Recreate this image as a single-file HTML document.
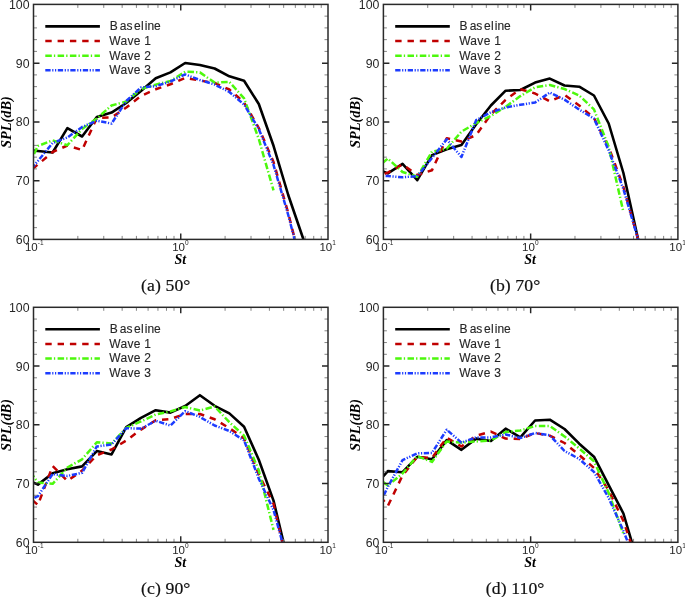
<!DOCTYPE html><html><head><meta charset="utf-8"><style>html,body{margin:0;padding:0;background:#fff;}svg{display:block;will-change:transform;}text{font-family:"Liberation Sans",sans-serif;}</style></head><body>
<svg width="685" height="597" viewBox="0 0 685 597">
<defs>
<clipPath id="clipa"><rect x="33.5" y="4.4" width="294.5" height="235.0"/></clipPath>
<clipPath id="clipb"><rect x="383.4" y="4.4" width="294.5" height="235.0"/></clipPath>
<clipPath id="clipc"><rect x="33.5" y="307.3" width="294.5" height="235.0"/></clipPath>
<clipPath id="clipd"><rect x="383.4" y="307.3" width="294.5" height="235.0"/></clipPath>
</defs>
<rect width="685" height="597" fill="#fff"/>
<g clip-path="url(#clipa)" fill="none" stroke-linejoin="round">
<polyline points="23.19,150.00 37.92,151.00 52.64,152.50 67.37,128.20 82.09,136.50 96.82,117.00 111.54,112.60 126.27,103.00 140.99,91.00 155.72,78.30 170.44,72.40 185.17,63.00 199.89,65.00 214.62,68.50 229.34,76.30 244.07,80.80 258.79,104.00 273.52,145.80 288.24,195.00 302.97,238.00 317.69,280.00" stroke="#000000" stroke-width="2.6"/>
<polyline points="23.19,177.00 37.92,164.50 52.64,152.00 67.37,145.50 82.09,150.00 96.82,118.00 111.54,117.50 126.27,107.50 140.99,96.00 155.72,89.30 170.44,84.30 185.17,78.00 199.89,80.50 214.62,83.00 229.34,89.50 244.07,102.50 258.79,128.00 273.52,162.00 288.24,213.00 302.97,272.00" stroke="#c00000" stroke-width="2.5" stroke-dasharray="6.4 5.9"/>
<polyline points="23.19,176.00 37.92,146.00 52.64,140.40 67.37,145.20 82.09,129.00 96.82,118.50 111.54,105.50 126.27,101.50 140.99,89.00 155.72,84.60 170.44,81.00 185.17,71.70 199.89,72.40 214.62,82.60 229.34,81.80 244.07,98.40 258.79,139.00 273.52,190.40" stroke="#4cf80c" stroke-width="2.5" stroke-dasharray="6.5 2.1 1.3 2.4"/>
<polyline points="23.19,178.00 37.92,161.00 52.64,143.00 67.37,137.50 82.09,127.00 96.82,120.70 111.54,123.60 126.27,101.00 140.99,87.50 155.72,86.20 170.44,81.50 185.17,74.40 199.89,80.00 214.62,84.50 229.34,92.00 244.07,104.50 258.79,129.00 273.52,165.00 288.24,215.00 302.97,272.00" stroke="#1c3cff" stroke-width="2.5" stroke-dasharray="5.3 1.6 1.2 1.6 1.2 1.6"/>
</g>
<path d="M33.5,227.65h3.5M328.0,227.65h-3.5M33.5,215.90h3.5M328.0,215.90h-3.5M33.5,204.15h3.5M328.0,204.15h-3.5M33.5,192.40h3.5M328.0,192.40h-3.5M33.5,168.90h3.5M328.0,168.90h-3.5M33.5,157.15h3.5M328.0,157.15h-3.5M33.5,145.40h3.5M328.0,145.40h-3.5M33.5,133.65h3.5M328.0,133.65h-3.5M33.5,110.15h3.5M328.0,110.15h-3.5M33.5,98.40h3.5M328.0,98.40h-3.5M33.5,86.65h3.5M328.0,86.65h-3.5M33.5,74.90h3.5M328.0,74.90h-3.5M33.5,51.40h3.5M328.0,51.40h-3.5M33.5,39.65h3.5M328.0,39.65h-3.5M33.5,27.90h3.5M328.0,27.90h-3.5M33.5,16.15h3.5M328.0,16.15h-3.5M77.83,239.4v-3.5M77.83,4.4v3.5M103.76,239.4v-3.5M103.76,4.4v3.5M122.15,239.4v-3.5M122.15,4.4v3.5M136.42,239.4v-3.5M136.42,4.4v3.5M148.08,239.4v-3.5M148.08,4.4v3.5M157.94,239.4v-3.5M157.94,4.4v3.5M166.48,239.4v-3.5M166.48,4.4v3.5M174.01,239.4v-3.5M174.01,4.4v3.5M225.08,239.4v-3.5M225.08,4.4v3.5M251.01,239.4v-3.5M251.01,4.4v3.5M269.40,239.4v-3.5M269.40,4.4v3.5M283.67,239.4v-3.5M283.67,4.4v3.5M295.33,239.4v-3.5M295.33,4.4v3.5M305.19,239.4v-3.5M305.19,4.4v3.5M313.73,239.4v-3.5M313.73,4.4v3.5M321.26,239.4v-3.5M321.26,4.4v3.5" stroke="#777" stroke-width="0.9" fill="none"/>
<path d="M33.5,180.65h6M328.0,180.65h-6M33.5,121.90h6M328.0,121.90h-6M33.5,63.15h6M328.0,63.15h-6M180.75,239.4v-6M180.75,4.4v6" stroke="#262626" stroke-width="1.45" fill="none"/>
<rect x="33.5" y="4.4" width="294.5" height="235.0" fill="none" stroke="#2a2a2a" stroke-width="1.5"/>
<text x="29.5" y="243.90" font-size="12.3" text-anchor="end" fill="#262626">60</text>
<text x="29.5" y="185.15" font-size="12.3" text-anchor="end" fill="#262626">70</text>
<text x="29.5" y="126.40" font-size="12.3" text-anchor="end" fill="#262626">80</text>
<text x="29.5" y="67.65" font-size="12.3" text-anchor="end" fill="#262626">90</text>
<text x="29.5" y="8.90" font-size="12.3" text-anchor="end" fill="#262626">100</text>
<text x="31.30" y="250.60" font-size="11.5" text-anchor="middle" fill="#262626">10</text>
<text x="37.80" y="244.70" font-size="6.5" fill="#262626">-1</text>
<text x="178.55" y="250.60" font-size="11.5" text-anchor="middle" fill="#262626">10</text>
<text x="185.05" y="244.70" font-size="6.5" fill="#262626">0</text>
<text x="325.80" y="250.60" font-size="11.5" text-anchor="middle" fill="#262626">10</text>
<text x="332.30" y="244.70" font-size="6.5" fill="#262626">1</text>
<text x="180.25" y="264.40" font-size="14" text-anchor="middle" font-family="Liberation Serif" font-weight="bold" font-style="italic" style="font-family:'Liberation Serif',serif">St</text>
<text transform="translate(10.50,122.10) rotate(-90)" font-size="14.4" text-anchor="middle" font-weight="bold" font-style="italic" style="font-family:'Liberation Serif',serif">SPL(dB)</text>
<line x1="45.3" y1="26.40" x2="99.9" y2="26.40" stroke="#000000" stroke-width="2.6"/>
<text x="109.30" y="30.20" font-size="12" dx="0.4 2.1 -0.1 1.7 0.2 1.1 0.1 -0.1" fill="#262626" stroke="#262626" stroke-width="0.12">Baseline</text>
<line x1="45.3" y1="41.05" x2="99.9" y2="41.05" stroke="#c00000" stroke-width="2.5" stroke-dasharray="6.4 5.9"/>
<text x="109.30" y="44.85" font-size="12" letter-spacing="0.3" fill="#262626" stroke="#262626" stroke-width="0.12">Wave 1</text>
<line x1="45.3" y1="55.70" x2="99.9" y2="55.70" stroke="#4cf80c" stroke-width="2.5" stroke-dasharray="6.5 2.1 1.3 2.4"/>
<text x="109.30" y="59.50" font-size="12" letter-spacing="0.3" fill="#262626" stroke="#262626" stroke-width="0.12">Wave 2</text>
<line x1="45.3" y1="70.35" x2="99.9" y2="70.35" stroke="#1c3cff" stroke-width="2.5" stroke-dasharray="5.3 1.6 1.2 1.6 1.2 1.6"/>
<text x="109.30" y="74.15" font-size="12" letter-spacing="0.3" fill="#262626" stroke="#262626" stroke-width="0.12">Wave 3</text>
<text x="165.75" y="290.70" font-size="17.7" letter-spacing="0.1" text-anchor="middle" style="font-family:'Liberation Serif',serif" fill="#111" stroke="#111" stroke-width="0.2">(a) 50°</text>
<g clip-path="url(#clipb)" fill="none" stroke-linejoin="round">
<polyline points="373.09,167.00 387.82,173.40 402.54,163.90 417.27,180.20 431.99,155.10 446.72,149.30 461.44,145.00 476.17,124.20 490.89,105.50 505.62,90.70 520.34,90.00 535.07,82.60 549.79,78.60 564.52,85.50 579.24,86.70 593.97,95.50 608.69,123.50 623.42,173.00 638.14,239.50 652.87,300.00" stroke="#000000" stroke-width="2.6"/>
<polyline points="373.09,178.00 387.82,172.60 402.54,164.50 417.27,175.00 431.99,170.30 446.72,138.20 461.44,141.50 476.17,135.00 490.89,114.50 505.62,99.80 520.34,89.20 535.07,93.50 549.79,101.40 564.52,94.90 579.24,105.50 593.97,118.00 608.69,147.00 623.42,187.00 638.14,239.50 652.87,300.00" stroke="#c00000" stroke-width="2.5" stroke-dasharray="6.4 5.9"/>
<polyline points="373.09,171.00 387.82,158.60 402.54,172.00 417.27,176.70 431.99,151.60 446.72,148.70 461.44,131.60 476.17,123.00 490.89,116.00 505.62,106.80 520.34,96.10 535.07,87.30 549.79,85.00 564.52,89.00 579.24,95.50 593.97,109.40 608.69,146.90 623.42,212.00" stroke="#4cf80c" stroke-width="2.5" stroke-dasharray="6.5 2.1 1.3 2.4"/>
<polyline points="373.09,175.50 387.82,176.10 402.54,177.30 417.27,176.10 431.99,158.00 446.72,139.30 461.44,157.00 476.17,120.20 490.89,112.20 505.62,107.50 520.34,104.80 535.07,102.50 549.79,92.60 564.52,99.60 579.24,109.60 593.97,118.60 608.69,150.40 623.42,189.10 638.14,239.50 652.87,300.00" stroke="#1c3cff" stroke-width="2.5" stroke-dasharray="5.3 1.6 1.2 1.6 1.2 1.6"/>
</g>
<path d="M383.4,227.65h3.5M677.9,227.65h-3.5M383.4,215.90h3.5M677.9,215.90h-3.5M383.4,204.15h3.5M677.9,204.15h-3.5M383.4,192.40h3.5M677.9,192.40h-3.5M383.4,168.90h3.5M677.9,168.90h-3.5M383.4,157.15h3.5M677.9,157.15h-3.5M383.4,145.40h3.5M677.9,145.40h-3.5M383.4,133.65h3.5M677.9,133.65h-3.5M383.4,110.15h3.5M677.9,110.15h-3.5M383.4,98.40h3.5M677.9,98.40h-3.5M383.4,86.65h3.5M677.9,86.65h-3.5M383.4,74.90h3.5M677.9,74.90h-3.5M383.4,51.40h3.5M677.9,51.40h-3.5M383.4,39.65h3.5M677.9,39.65h-3.5M383.4,27.90h3.5M677.9,27.90h-3.5M383.4,16.15h3.5M677.9,16.15h-3.5M427.73,239.4v-3.5M427.73,4.4v3.5M453.66,239.4v-3.5M453.66,4.4v3.5M472.05,239.4v-3.5M472.05,4.4v3.5M486.32,239.4v-3.5M486.32,4.4v3.5M497.98,239.4v-3.5M497.98,4.4v3.5M507.84,239.4v-3.5M507.84,4.4v3.5M516.38,239.4v-3.5M516.38,4.4v3.5M523.91,239.4v-3.5M523.91,4.4v3.5M574.98,239.4v-3.5M574.98,4.4v3.5M600.91,239.4v-3.5M600.91,4.4v3.5M619.30,239.4v-3.5M619.30,4.4v3.5M633.57,239.4v-3.5M633.57,4.4v3.5M645.23,239.4v-3.5M645.23,4.4v3.5M655.09,239.4v-3.5M655.09,4.4v3.5M663.63,239.4v-3.5M663.63,4.4v3.5M671.16,239.4v-3.5M671.16,4.4v3.5" stroke="#777" stroke-width="0.9" fill="none"/>
<path d="M383.4,180.65h6M677.9,180.65h-6M383.4,121.90h6M677.9,121.90h-6M383.4,63.15h6M677.9,63.15h-6M530.65,239.4v-6M530.65,4.4v6" stroke="#262626" stroke-width="1.45" fill="none"/>
<rect x="383.4" y="4.4" width="294.5" height="235.0" fill="none" stroke="#2a2a2a" stroke-width="1.5"/>
<text x="379.4" y="243.90" font-size="12.3" text-anchor="end" fill="#262626">60</text>
<text x="379.4" y="185.15" font-size="12.3" text-anchor="end" fill="#262626">70</text>
<text x="379.4" y="126.40" font-size="12.3" text-anchor="end" fill="#262626">80</text>
<text x="379.4" y="67.65" font-size="12.3" text-anchor="end" fill="#262626">90</text>
<text x="379.4" y="8.90" font-size="12.3" text-anchor="end" fill="#262626">100</text>
<text x="381.20" y="250.60" font-size="11.5" text-anchor="middle" fill="#262626">10</text>
<text x="387.70" y="244.70" font-size="6.5" fill="#262626">-1</text>
<text x="528.45" y="250.60" font-size="11.5" text-anchor="middle" fill="#262626">10</text>
<text x="534.95" y="244.70" font-size="6.5" fill="#262626">0</text>
<text x="675.70" y="250.60" font-size="11.5" text-anchor="middle" fill="#262626">10</text>
<text x="682.20" y="244.70" font-size="6.5" fill="#262626">1</text>
<text x="530.15" y="264.40" font-size="14" text-anchor="middle" font-family="Liberation Serif" font-weight="bold" font-style="italic" style="font-family:'Liberation Serif',serif">St</text>
<text transform="translate(360.40,122.10) rotate(-90)" font-size="14.4" text-anchor="middle" font-weight="bold" font-style="italic" style="font-family:'Liberation Serif',serif">SPL(dB)</text>
<line x1="395.2" y1="26.40" x2="449.79999999999995" y2="26.40" stroke="#000000" stroke-width="2.6"/>
<text x="459.20" y="30.20" font-size="12" dx="0.4 2.1 -0.1 1.7 0.2 1.1 0.1 -0.1" fill="#262626" stroke="#262626" stroke-width="0.12">Baseline</text>
<line x1="395.2" y1="41.05" x2="449.79999999999995" y2="41.05" stroke="#c00000" stroke-width="2.5" stroke-dasharray="6.4 5.9"/>
<text x="459.20" y="44.85" font-size="12" letter-spacing="0.3" fill="#262626" stroke="#262626" stroke-width="0.12">Wave 1</text>
<line x1="395.2" y1="55.70" x2="449.79999999999995" y2="55.70" stroke="#4cf80c" stroke-width="2.5" stroke-dasharray="6.5 2.1 1.3 2.4"/>
<text x="459.20" y="59.50" font-size="12" letter-spacing="0.3" fill="#262626" stroke="#262626" stroke-width="0.12">Wave 2</text>
<line x1="395.2" y1="70.35" x2="449.79999999999995" y2="70.35" stroke="#1c3cff" stroke-width="2.5" stroke-dasharray="5.3 1.6 1.2 1.6 1.2 1.6"/>
<text x="459.20" y="74.15" font-size="12" letter-spacing="0.3" fill="#262626" stroke="#262626" stroke-width="0.12">Wave 3</text>
<text x="515.15" y="290.70" font-size="17.7" letter-spacing="0.1" text-anchor="middle" style="font-family:'Liberation Serif',serif" fill="#111" stroke="#111" stroke-width="0.2">(b) 70°</text>
<g clip-path="url(#clipc)" fill="none" stroke-linejoin="round">
<polyline points="23.19,478.00 37.92,484.60 52.64,473.20 67.37,469.20 82.09,466.40 96.82,451.10 111.54,454.40 126.27,427.20 140.99,417.80 155.72,410.20 170.44,412.60 185.17,406.00 199.89,395.20 214.62,405.80 229.34,413.40 244.07,426.80 258.79,459.80 273.52,500.60 288.24,562.00" stroke="#000000" stroke-width="2.6"/>
<polyline points="23.19,492.00 37.92,505.00 52.64,466.00 67.37,481.00 82.09,470.50 96.82,455.20 111.54,449.50 126.27,440.50 140.99,429.60 155.72,420.20 170.44,419.00 185.17,414.00 199.89,414.00 214.62,419.30 229.34,428.10 244.07,438.50 258.79,474.40 273.52,503.80 288.24,568.50" stroke="#c00000" stroke-width="2.5" stroke-dasharray="6.4 5.9"/>
<polyline points="23.19,462.00 37.92,482.60 52.64,483.80 67.37,467.50 82.09,459.30 96.82,442.30 111.54,443.50 126.27,427.80 140.99,421.40 155.72,414.50 170.44,411.40 185.17,407.00 199.89,410.50 214.62,406.40 229.34,422.20 244.07,435.70 258.79,470.30 273.52,529.90" stroke="#4cf80c" stroke-width="2.5" stroke-dasharray="6.5 2.1 1.3 2.4"/>
<polyline points="23.19,503.50 37.92,496.20 52.64,474.00 67.37,476.00 82.09,472.80 96.82,446.40 111.54,444.50 126.27,428.20 140.99,428.60 155.72,420.80 170.44,425.50 185.17,411.20 199.89,416.90 214.62,425.50 229.34,431.00 244.07,440.40 258.79,478.60 273.52,510.00 288.24,563.70" stroke="#1c3cff" stroke-width="2.5" stroke-dasharray="5.3 1.6 1.2 1.6 1.2 1.6"/>
</g>
<path d="M33.5,530.55h3.5M328.0,530.55h-3.5M33.5,518.80h3.5M328.0,518.80h-3.5M33.5,507.05h3.5M328.0,507.05h-3.5M33.5,495.30h3.5M328.0,495.30h-3.5M33.5,471.80h3.5M328.0,471.80h-3.5M33.5,460.05h3.5M328.0,460.05h-3.5M33.5,448.30h3.5M328.0,448.30h-3.5M33.5,436.55h3.5M328.0,436.55h-3.5M33.5,413.05h3.5M328.0,413.05h-3.5M33.5,401.30h3.5M328.0,401.30h-3.5M33.5,389.55h3.5M328.0,389.55h-3.5M33.5,377.80h3.5M328.0,377.80h-3.5M33.5,354.30h3.5M328.0,354.30h-3.5M33.5,342.55h3.5M328.0,342.55h-3.5M33.5,330.80h3.5M328.0,330.80h-3.5M33.5,319.05h3.5M328.0,319.05h-3.5M77.83,542.3v-3.5M77.83,307.3v3.5M103.76,542.3v-3.5M103.76,307.3v3.5M122.15,542.3v-3.5M122.15,307.3v3.5M136.42,542.3v-3.5M136.42,307.3v3.5M148.08,542.3v-3.5M148.08,307.3v3.5M157.94,542.3v-3.5M157.94,307.3v3.5M166.48,542.3v-3.5M166.48,307.3v3.5M174.01,542.3v-3.5M174.01,307.3v3.5M225.08,542.3v-3.5M225.08,307.3v3.5M251.01,542.3v-3.5M251.01,307.3v3.5M269.40,542.3v-3.5M269.40,307.3v3.5M283.67,542.3v-3.5M283.67,307.3v3.5M295.33,542.3v-3.5M295.33,307.3v3.5M305.19,542.3v-3.5M305.19,307.3v3.5M313.73,542.3v-3.5M313.73,307.3v3.5M321.26,542.3v-3.5M321.26,307.3v3.5" stroke="#777" stroke-width="0.9" fill="none"/>
<path d="M33.5,483.55h6M328.0,483.55h-6M33.5,424.80h6M328.0,424.80h-6M33.5,366.05h6M328.0,366.05h-6M180.75,542.3v-6M180.75,307.3v6" stroke="#262626" stroke-width="1.45" fill="none"/>
<rect x="33.5" y="307.3" width="294.5" height="235.0" fill="none" stroke="#2a2a2a" stroke-width="1.5"/>
<text x="29.5" y="546.80" font-size="12.3" text-anchor="end" fill="#262626">60</text>
<text x="29.5" y="488.05" font-size="12.3" text-anchor="end" fill="#262626">70</text>
<text x="29.5" y="429.30" font-size="12.3" text-anchor="end" fill="#262626">80</text>
<text x="29.5" y="370.55" font-size="12.3" text-anchor="end" fill="#262626">90</text>
<text x="29.5" y="311.80" font-size="12.3" text-anchor="end" fill="#262626">100</text>
<text x="31.30" y="553.50" font-size="11.5" text-anchor="middle" fill="#262626">10</text>
<text x="37.80" y="547.60" font-size="6.5" fill="#262626">-1</text>
<text x="178.55" y="553.50" font-size="11.5" text-anchor="middle" fill="#262626">10</text>
<text x="185.05" y="547.60" font-size="6.5" fill="#262626">0</text>
<text x="325.80" y="553.50" font-size="11.5" text-anchor="middle" fill="#262626">10</text>
<text x="332.30" y="547.60" font-size="6.5" fill="#262626">1</text>
<text x="180.25" y="567.30" font-size="14" text-anchor="middle" font-family="Liberation Serif" font-weight="bold" font-style="italic" style="font-family:'Liberation Serif',serif">St</text>
<text transform="translate(10.50,425.00) rotate(-90)" font-size="14.4" text-anchor="middle" font-weight="bold" font-style="italic" style="font-family:'Liberation Serif',serif">SPL(dB)</text>
<line x1="45.3" y1="329.30" x2="99.9" y2="329.30" stroke="#000000" stroke-width="2.6"/>
<text x="109.30" y="333.10" font-size="12" dx="0.4 2.1 -0.1 1.7 0.2 1.1 0.1 -0.1" fill="#262626" stroke="#262626" stroke-width="0.12">Baseline</text>
<line x1="45.3" y1="343.95" x2="99.9" y2="343.95" stroke="#c00000" stroke-width="2.5" stroke-dasharray="6.4 5.9"/>
<text x="109.30" y="347.75" font-size="12" letter-spacing="0.3" fill="#262626" stroke="#262626" stroke-width="0.12">Wave 1</text>
<line x1="45.3" y1="358.60" x2="99.9" y2="358.60" stroke="#4cf80c" stroke-width="2.5" stroke-dasharray="6.5 2.1 1.3 2.4"/>
<text x="109.30" y="362.40" font-size="12" letter-spacing="0.3" fill="#262626" stroke="#262626" stroke-width="0.12">Wave 2</text>
<line x1="45.3" y1="373.25" x2="99.9" y2="373.25" stroke="#1c3cff" stroke-width="2.5" stroke-dasharray="5.3 1.6 1.2 1.6 1.2 1.6"/>
<text x="109.30" y="377.05" font-size="12" letter-spacing="0.3" fill="#262626" stroke="#262626" stroke-width="0.12">Wave 3</text>
<text x="165.75" y="593.60" font-size="17.7" letter-spacing="0.1" text-anchor="middle" style="font-family:'Liberation Serif',serif" fill="#111" stroke="#111" stroke-width="0.2">(c) 90°</text>
<g clip-path="url(#clipd)" fill="none" stroke-linejoin="round">
<polyline points="373.09,488.00 387.82,471.10 402.54,472.20 417.27,456.80 431.99,459.20 446.72,440.10 461.44,449.80 476.17,438.60 490.89,441.00 505.62,428.70 520.34,437.40 535.07,420.50 549.79,419.70 564.52,429.00 579.24,443.70 593.97,456.70 608.69,485.20 623.42,513.50 638.14,563.50" stroke="#000000" stroke-width="2.6"/>
<polyline points="373.09,487.00 387.82,506.00 402.54,475.50 417.27,456.80 431.99,458.10 446.72,437.60 461.44,446.50 476.17,435.70 490.89,431.60 505.62,438.60 520.34,439.00 535.07,433.00 549.79,435.70 564.52,443.00 579.24,455.00 593.97,467.90 608.69,490.40 623.42,521.00 638.14,564.50" stroke="#c00000" stroke-width="2.5" stroke-dasharray="6.4 5.9"/>
<polyline points="373.09,474.00 387.82,485.60 402.54,473.50 417.27,456.10 431.99,461.90 446.72,441.50 461.44,442.60 476.17,441.50 490.89,440.40 505.62,432.00 520.34,430.50 535.07,426.00 549.79,426.00 564.52,436.40 579.24,448.40 593.97,461.30 608.69,493.00 623.42,534.00" stroke="#4cf80c" stroke-width="2.5" stroke-dasharray="6.5 2.1 1.3 2.4"/>
<polyline points="373.09,517.80 387.82,486.90 402.54,460.10 417.27,453.40 431.99,452.90 446.72,429.70 461.44,442.60 476.17,437.40 490.89,437.40 505.62,434.50 520.34,438.00 535.07,433.00 549.79,435.30 564.52,451.00 579.24,459.00 593.97,471.90 608.69,498.00 623.42,531.00 638.14,568.00" stroke="#1c3cff" stroke-width="2.5" stroke-dasharray="5.3 1.6 1.2 1.6 1.2 1.6"/>
</g>
<path d="M383.4,530.55h3.5M677.9,530.55h-3.5M383.4,518.80h3.5M677.9,518.80h-3.5M383.4,507.05h3.5M677.9,507.05h-3.5M383.4,495.30h3.5M677.9,495.30h-3.5M383.4,471.80h3.5M677.9,471.80h-3.5M383.4,460.05h3.5M677.9,460.05h-3.5M383.4,448.30h3.5M677.9,448.30h-3.5M383.4,436.55h3.5M677.9,436.55h-3.5M383.4,413.05h3.5M677.9,413.05h-3.5M383.4,401.30h3.5M677.9,401.30h-3.5M383.4,389.55h3.5M677.9,389.55h-3.5M383.4,377.80h3.5M677.9,377.80h-3.5M383.4,354.30h3.5M677.9,354.30h-3.5M383.4,342.55h3.5M677.9,342.55h-3.5M383.4,330.80h3.5M677.9,330.80h-3.5M383.4,319.05h3.5M677.9,319.05h-3.5M427.73,542.3v-3.5M427.73,307.3v3.5M453.66,542.3v-3.5M453.66,307.3v3.5M472.05,542.3v-3.5M472.05,307.3v3.5M486.32,542.3v-3.5M486.32,307.3v3.5M497.98,542.3v-3.5M497.98,307.3v3.5M507.84,542.3v-3.5M507.84,307.3v3.5M516.38,542.3v-3.5M516.38,307.3v3.5M523.91,542.3v-3.5M523.91,307.3v3.5M574.98,542.3v-3.5M574.98,307.3v3.5M600.91,542.3v-3.5M600.91,307.3v3.5M619.30,542.3v-3.5M619.30,307.3v3.5M633.57,542.3v-3.5M633.57,307.3v3.5M645.23,542.3v-3.5M645.23,307.3v3.5M655.09,542.3v-3.5M655.09,307.3v3.5M663.63,542.3v-3.5M663.63,307.3v3.5M671.16,542.3v-3.5M671.16,307.3v3.5" stroke="#777" stroke-width="0.9" fill="none"/>
<path d="M383.4,483.55h6M677.9,483.55h-6M383.4,424.80h6M677.9,424.80h-6M383.4,366.05h6M677.9,366.05h-6M530.65,542.3v-6M530.65,307.3v6" stroke="#262626" stroke-width="1.45" fill="none"/>
<rect x="383.4" y="307.3" width="294.5" height="235.0" fill="none" stroke="#2a2a2a" stroke-width="1.5"/>
<text x="379.4" y="546.80" font-size="12.3" text-anchor="end" fill="#262626">60</text>
<text x="379.4" y="488.05" font-size="12.3" text-anchor="end" fill="#262626">70</text>
<text x="379.4" y="429.30" font-size="12.3" text-anchor="end" fill="#262626">80</text>
<text x="379.4" y="370.55" font-size="12.3" text-anchor="end" fill="#262626">90</text>
<text x="379.4" y="311.80" font-size="12.3" text-anchor="end" fill="#262626">100</text>
<text x="381.20" y="553.50" font-size="11.5" text-anchor="middle" fill="#262626">10</text>
<text x="387.70" y="547.60" font-size="6.5" fill="#262626">-1</text>
<text x="528.45" y="553.50" font-size="11.5" text-anchor="middle" fill="#262626">10</text>
<text x="534.95" y="547.60" font-size="6.5" fill="#262626">0</text>
<text x="675.70" y="553.50" font-size="11.5" text-anchor="middle" fill="#262626">10</text>
<text x="682.20" y="547.60" font-size="6.5" fill="#262626">1</text>
<text x="530.15" y="567.30" font-size="14" text-anchor="middle" font-family="Liberation Serif" font-weight="bold" font-style="italic" style="font-family:'Liberation Serif',serif">St</text>
<text transform="translate(360.40,425.00) rotate(-90)" font-size="14.4" text-anchor="middle" font-weight="bold" font-style="italic" style="font-family:'Liberation Serif',serif">SPL(dB)</text>
<line x1="395.2" y1="329.30" x2="449.79999999999995" y2="329.30" stroke="#000000" stroke-width="2.6"/>
<text x="459.20" y="333.10" font-size="12" dx="0.4 2.1 -0.1 1.7 0.2 1.1 0.1 -0.1" fill="#262626" stroke="#262626" stroke-width="0.12">Baseline</text>
<line x1="395.2" y1="343.95" x2="449.79999999999995" y2="343.95" stroke="#c00000" stroke-width="2.5" stroke-dasharray="6.4 5.9"/>
<text x="459.20" y="347.75" font-size="12" letter-spacing="0.3" fill="#262626" stroke="#262626" stroke-width="0.12">Wave 1</text>
<line x1="395.2" y1="358.60" x2="449.79999999999995" y2="358.60" stroke="#4cf80c" stroke-width="2.5" stroke-dasharray="6.5 2.1 1.3 2.4"/>
<text x="459.20" y="362.40" font-size="12" letter-spacing="0.3" fill="#262626" stroke="#262626" stroke-width="0.12">Wave 2</text>
<line x1="395.2" y1="373.25" x2="449.79999999999995" y2="373.25" stroke="#1c3cff" stroke-width="2.5" stroke-dasharray="5.3 1.6 1.2 1.6 1.2 1.6"/>
<text x="459.20" y="377.05" font-size="12" letter-spacing="0.3" fill="#262626" stroke="#262626" stroke-width="0.12">Wave 3</text>
<text x="515.15" y="593.60" font-size="17.7" letter-spacing="0.1" text-anchor="middle" style="font-family:'Liberation Serif',serif" fill="#111" stroke="#111" stroke-width="0.2">(d) 110°</text>
</svg></body></html>
